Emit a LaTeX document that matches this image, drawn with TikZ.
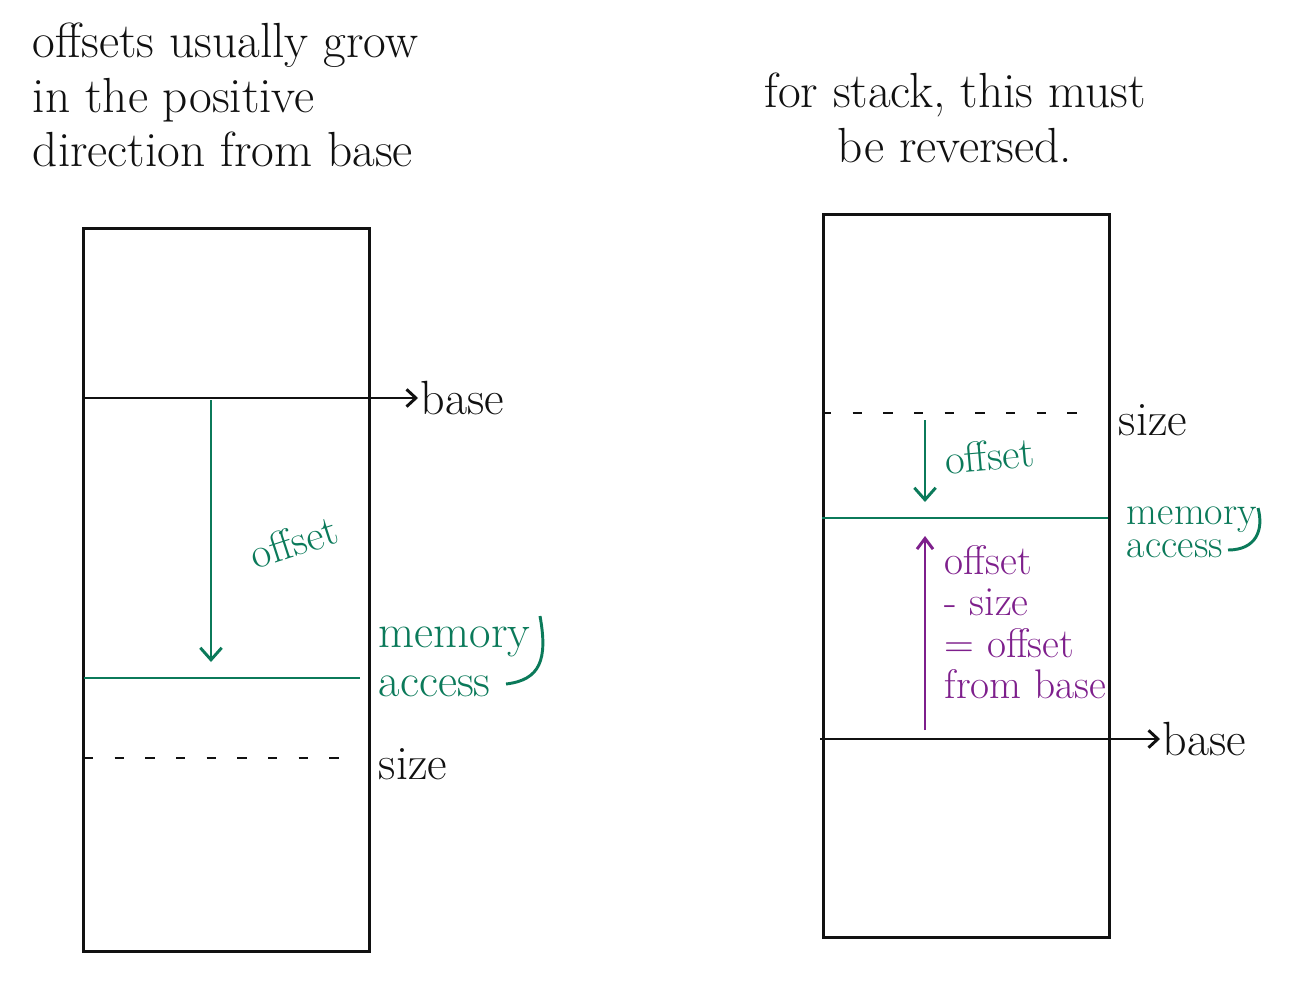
\documentclass[tikz,border=0pt]{standalone}
\usepackage{xcolor}
\usepackage{tikz}
\usetikzlibrary{positioning,arrows.meta}
\definecolor{ink}{HTML}{111111}
\definecolor{accgreen}{HTML}{0B7A5A}
\definecolor{stkpurple}{HTML}{7E1F8C}

\begin{document}
\begin{tikzpicture}[x=0.75pt,y=-0.75pt,
    every node/.style={font=\fontsize{36}{41}\selectfont,text=ink,inner sep=2pt},
    frame/.style={draw=ink,line width=2.2pt,minimum width=214.5pt,minimum height=542.5pt,anchor=north west},
    ptr/.style={draw=ink,line width=2.2pt,-{Straight Barb[length=7pt,width=13pt,line width=2.2pt]}},
    sizeline/.style={draw=ink,line width=2.2pt,dash pattern=on 7pt off 16pt},
    accline/.style={draw=accgreen,line width=2.2pt},
    offarrow/.style={draw=accgreen,line width=2.2pt,-{Straight Barb[length=9pt,width=16pt,line width=2.2pt]}},
    backarrow/.style={draw=stkpurple,line width=2.2pt,-{Straight Barb[length=8pt,width=12pt,line width=2.2pt]}},
    acclabel/.style={text=accgreen,align=left},
    note/.style={align=left,font=\fontsize{37}{41}\selectfont}]
  \useasboundingbox[fill=white] (0,0) rectangle (1316,991);

  % headings
  \node[note,anchor=north west] (growtxt) at (30,20) {offsets usually grow\\in the positive\\direction from base};
  \node[note,align=center] (stacktxt) at (955,118) {for stack, this must\\be reversed.};

  % left: offsets grow downward from base
  \node[frame] (lbox) at (82,227) {};
  \coordinate (lbaseW) at (82,398);
  \node[anchor=west] (lbase) at (418,398) {base};
  \draw[ptr] (lbaseW) -- (lbase.west);
  \coordinate (loffS) at (211,400);
  \coordinate (loffE) at (211,662);
  \draw[offarrow] (loffS) -- (loffE);
  \node[text=accgreen,rotate=18,font=\fontsize{32}{36}\selectfont] (loff) at (294,542) {offset};
  \coordinate (laccW) at (84,678);
  \coordinate (laccE) at (360,678);
  \draw[accline] (laccW) -- (laccE);
  \node[acclabel,anchor=west,font=\fontsize{35}{37}\selectfont] (lacc) at (376,662) {memory\\access};
  \coordinate (lbrS) at (540,616);
  \coordinate (lbrE) at (506,684);
  \draw[accline] (lbrS) .. controls (548,660) and (540,680) .. (lbrE);
  \coordinate (lsizeW) at (84,758);
  \coordinate (lsizeE) at (356,758);
  \draw[sizeline] (lsizeW) -- (lsizeE);
  \node[anchor=west] (lsize) at (376,764) {size};

  % right: stack, reversed
  \node[frame] (rbox) at (822,213) {};
  \coordinate (rsizeW) at (822,413);
  \coordinate (rsizeE) at (1086,413);
  \draw[sizeline] (rsizeW) -- (rsizeE);
  \node[anchor=west] (rsize) at (1116,420) {size};
  \coordinate (roffS) at (925,420);
  \coordinate (roffE) at (925,502);
  \draw[offarrow] (roffS) -- (roffE);
  \node[text=accgreen,rotate=5,anchor=west,font=\fontsize{32}{36}\selectfont] (roff) at (942,460) {offset};
  \coordinate (raccW) at (822,518);
  \coordinate (raccE) at (1108,518);
  \draw[accline] (raccW) -- (raccE);
  \node[acclabel,anchor=west,font=\fontsize{30}{25}\selectfont] (racc) at (1124,532) {memory\\access};
  \coordinate (rbrS) at (1258,508);
  \coordinate (rbrE) at (1228,550);
  \draw[accline] (rbrS) .. controls (1264,530) and (1256,550) .. (rbrE);
  \coordinate (rbackS) at (925,730);
  \coordinate (rbackE) at (925,536);
  \draw[backarrow] (rbackS) -- (rbackE);
  \node[text=stkpurple,align=left,anchor=west,font=\fontsize{31}{31}\selectfont] (rback) at (942,622) {offset\\- size\\= offset\\from base};
  \coordinate (rbaseW) at (820,739);
  \node[anchor=west] (rbase) at (1160,739) {base};
  \draw[ptr] (rbaseW) -- (rbase.west);
\end{tikzpicture}
\end{document}
